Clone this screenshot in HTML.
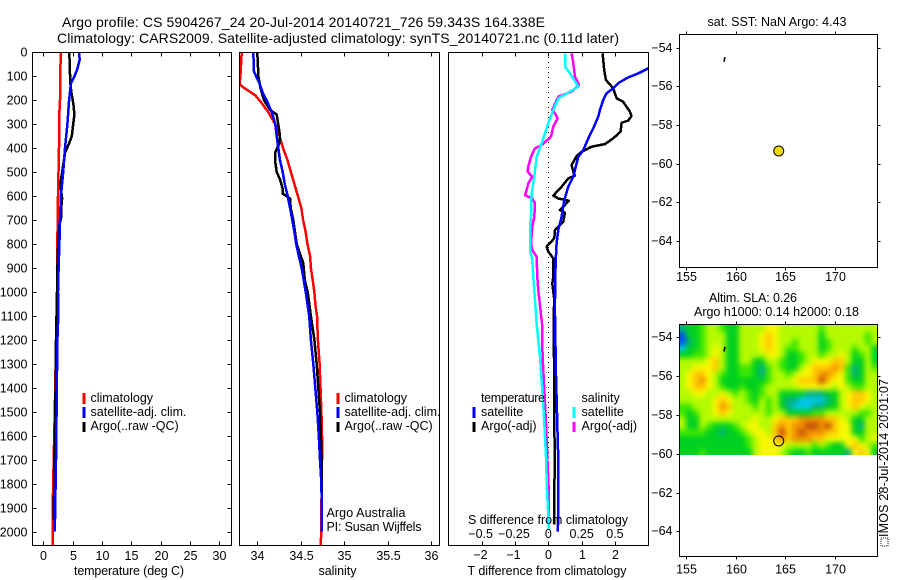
<!DOCTYPE html>
<html lang="en">
<head>
<meta charset="utf-8">
<title>Argo profile CS 5904267_24</title>
<style>
html,body{margin:0;padding:0;background:#fff;width:900px;height:580px;overflow:hidden}
svg{display:block}
text{font-family:"Liberation Sans",sans-serif;font-size:12.5px;fill:#000}
.mid{text-anchor:middle}
.end{text-anchor:end}
.frame{fill:none;stroke:#000;stroke-width:1;shape-rendering:crispEdges}
.tick{stroke:#000;stroke-width:1;shape-rendering:crispEdges}
.series{fill:none;stroke-width:2.5;shape-rendering:crispEdges;stroke-linejoin:round}
.key{stroke-width:3;shape-rendering:crispEdges}
</style>
</head>
<body>
<svg id="chart" xmlns="http://www.w3.org/2000/svg" width="900" height="580" viewBox="0 0 900 580">
  <defs>
    <clipPath id="clip-temp"><rect x="32.5" y="52.5" width="199" height="493"/></clipPath>
    <clipPath id="clip-sal"><rect x="239.5" y="52.5" width="200" height="493"/></clipPath>
    <clipPath id="clip-diff"><rect x="448.5" y="52.5" width="200" height="493"/></clipPath>
    <clipPath id="clip-heat"><rect x="679.5" y="324.5" width="198" height="130.5"/></clipPath>
    <filter id="heat-blur" x="-5%" y="-5%" width="110%" height="110%" color-interpolation-filters="sRGB"><feGaussianBlur stdDeviation="2.6"/></filter>
  </defs>

  <text x="62" y="27" font-size="14" style="font-size:14px" textLength="483" lengthAdjust="spacing">Argo profile: CS 5904267_24 20-Jul-2014 20140721_726 59.343S 164.338E</text>
  <text x="57" y="43" style="font-size:14px" textLength="562" lengthAdjust="spacing">Climatology: CARS2009. Satellite-adjusted climatology: synTS_20140721.nc (0.11d later)</text>

  <g id="temp-series" clip-path="url(#clip-temp)"></g>
  <g id="sal-series" clip-path="url(#clip-sal)"></g>
  <g id="diff-series" clip-path="url(#clip-diff)"></g>
  <g id="heat" clip-path="url(#clip-heat)"><g id="heat-cells" filter="url(#heat-blur)"></g></g>
  <g id="ticks"></g>
  <g id="map-marks"></g>

  <rect class="frame" x="32.5" y="52.5" width="199" height="493"/>
  <rect class="frame" x="239.5" y="52.5" width="200" height="493"/>
  <rect class="frame" x="448.5" y="52.5" width="200" height="493"/>
  <rect class="frame" x="679.5" y="34.5" width="198" height="233"/>
  <rect class="frame" x="679.5" y="324.5" width="198" height="232"/>

  <text class="mid" x="129" y="575" textLength="110" lengthAdjust="spacing">temperature (deg C)</text>
  <text class="mid" x="337.5" y="575" textLength="38" lengthAdjust="spacing">salinity</text>
  <text class="mid" x="547" y="575" textLength="159" lengthAdjust="spacing">T difference from climatology</text>
  <text class="mid" x="548" y="524" textLength="160" lengthAdjust="spacing">S difference from climatology</text>

  <g>
    <line class="key" x1="84" x2="84" y1="393" y2="404" stroke="#f00"/>
    <text x="90.5" y="402">climatology</text>
    <line class="key" x1="84" x2="84" y1="407" y2="418" stroke="#00f"/>
    <text x="90.5" y="416" textLength="96" lengthAdjust="spacing">satellite-adj. clim.</text>
    <line class="key" x1="84" x2="84" y1="422" y2="432" stroke="#000"/>
    <text x="90.5" y="430">Argo(..raw -QC)</text>
  </g>
  <g>
    <line class="key" x1="338" x2="338" y1="393" y2="404" stroke="#f00"/>
    <text x="344.5" y="402">climatology</text>
    <line class="key" x1="338" x2="338" y1="407" y2="418" stroke="#00f"/>
    <text x="344.5" y="416" textLength="96" lengthAdjust="spacing">satellite-adj. clim.</text>
    <line class="key" x1="338" x2="338" y1="422" y2="432" stroke="#000"/>
    <text x="344.5" y="430">Argo(..raw -QC)</text>
  </g>
  <text x="326.5" y="517" textLength="79" lengthAdjust="spacing">Argo Australia</text>
  <text x="326.5" y="531" textLength="95" lengthAdjust="spacing">PI: Susan Wijffels</text>

  <g>
    <text x="481" y="402" textLength="64" lengthAdjust="spacing">temperature</text>
    <line class="key" x1="474" x2="474" y1="407" y2="418" stroke="#00f"/>
    <text x="481" y="416">satellite</text>
    <line class="key" x1="474" x2="474" y1="422" y2="432" stroke="#000"/>
    <text x="481" y="430">Argo(-adj)</text>
    <text x="581.5" y="402">salinity</text>
    <line class="key" x1="574" x2="574" y1="407" y2="418" stroke="#0ff"/>
    <text x="581.5" y="416">satellite</text>
    <line class="key" x1="574" x2="574" y1="422" y2="432" stroke="#f0f"/>
    <text x="581.5" y="430">Argo(-adj)</text>
  </g>

  <text class="mid" x="777" y="26" textLength="139" lengthAdjust="spacing">sat. SST: NaN Argo: 4.43</text>
  <text class="mid" x="753" y="302" textLength="88" lengthAdjust="spacing">Altim. SLA: 0.26</text>
  <text class="mid" x="776.5" y="316" textLength="165" lengthAdjust="spacing">Argo h1000: 0.14 h2000: 0.18</text>

  <rect x="881" y="538" width="7" height="8" fill="#fff" stroke="#000" stroke-width="1" stroke-dasharray="1 1"/>
  <text transform="translate(888,537) rotate(-90)" textLength="158" lengthAdjust="spacing">IMOS 28-Jul-2014 20:01:07</text>
</svg>

<script>
/* ---------- profile data ---------- */
const depthTicks = [0,100,200,300,400,500,600,700,800,900,1000,1100,1200,1300,1400,1500,1600,1700,1800,1900,2000];
const tempTicks = [0,5,10,15,20,25,30];
const salTicks = [34,34.5,35,35.5,36];
const salTickLabels = ['34','34.5','35','35.5','36'];
const tDiffTicks = [-2,-1,0,1,2];
const sDiffTicks = [-0.5,-0.25,0,0.25,0.5];
const sDiffTickLabels = ['\u22120.5','\u22120.25','0','0.25','0.5'];

const tempClimDepth = [0,100,200,250,400,600,900,1100,1200,1450,1700,1900,2060];
const tempClimValue = [2.96,2.9,2.85,2.75,2.68,2.5,2.33,2.33,2.16,2.0,1.77,1.6,1.6];
const tempSatDepth = [0,30,70,100,130,200,300,400,500,600,700,800,900,1000,1100,1200,1400,1650,1950,2000];
const tempSatValue = [6.08,6.2,5.8,5.3,4.7,4.4,4.1,3.7,3.4,3.0,2.85,2.75,2.6,2.5,2.55,2.4,2.3,2.2,2.0,1.95];
const tempArgoDepth = [0,130,170,220,260,300,350,380,420,470,550,610,650,690,720,780,900,1000,1200,1500,1700,1800,1950];
const tempArgoValue = [4.44,4.6,4.8,5.15,5.3,5.1,4.85,4.4,3.7,3.4,2.9,3.2,3.05,3.05,2.75,2.55,2.4,2.33,2.16,2.05,1.9,1.85,1.75];

const salClimDepth = [0,90,130,140,160,180,210,250,300,350,400,450,500,550,600,650,700,750,800,850,900,950,1000,1050,1100,1200,1300,1400,1500,1600,1700,2060];
const salClimValue = [33.824,33.81,33.8,33.82,33.9,33.98,34.05,34.13,34.21,34.26,34.3,34.35,34.39,34.43,34.47,34.51,34.53,34.56,34.58,34.61,34.62,34.64,34.66,34.67,34.69,34.7,34.72,34.73,34.74,34.747,34.747,34.735];
const salSatDepth = [0,80,100,130,170,200,250,300,350,400,450,500,550,600,650,700,750,800,850,900,950,1000,1100,1200,1300,1400,1500,1600,1700,1800,2000];
const salSatValue = [33.957,33.966,33.99,34.03,34.065,34.11,34.17,34.21,34.226,34.245,34.264,34.295,34.32,34.353,34.38,34.406,34.43,34.45,34.48,34.514,34.537,34.56,34.6,34.62,34.647,34.67,34.693,34.71,34.724,34.74,34.747];
const salArgoDepth = [0,100,150,200,240,260,300,350,380,420,450,500,530,570,590,610,650,700,750,800,840,880,950,1000,1100,1200,1300,1400,1500,1700,1900];
const salArgoValue = [34.004,34.016,34.04,34.08,34.15,34.226,34.245,34.264,34.256,34.207,34.207,34.226,34.264,34.295,34.295,34.38,34.387,34.417,34.437,34.456,34.494,34.532,34.55,34.583,34.62,34.66,34.686,34.705,34.724,34.744,34.747];

const tDiffSatDepth = [0,30,50,67,88,108,129,150,171,199,241,268,317,359,408,436,463,519,561,616,686,741,797,880,1033,1100,1350,1550,1700,1950,2000];
const tDiffSatValue = [3.12,3.4,3.3,3.0,2.7,2.35,2.1,1.95,1.75,1.65,1.55,1.5,1.35,1.2,1.05,0.9,0.85,0.75,0.6,0.48,0.4,0.3,0.25,0.22,0.2,0.2,0.23,0.27,0.3,0.3,0.28];
const tDiffArgoDepth = [4,74,115,150,192,206,248,266,285,294,331,359,383,394,415,433,470,498,515,526,561,598,610,619,658,669,707,741,776,811,832,860,936,964,1034,1100,1400,1700,1970];
const tDiffArgoValue = [1.63,1.68,1.73,1.95,2.05,2.25,2.45,2.5,2.4,2.2,2.17,1.95,1.7,1.3,1.0,0.85,0.7,0.75,0.8,0.6,0.4,0.15,0.3,0.62,0.35,0.5,0.45,0.2,0.18,-0.05,0,0.15,0.15,0.12,0.18,0.16,0.18,0.19,0.18];
const sDiffSatDepth = [4,60,88,143,164,192,241,296,380,436,519,589,686,741,825,867,936,992,1131,1270,1409,1548,1687,1826,1993];
const sDiffSatValue = [0.125,0.125,0.1625,0.225,0.1625,0.075,0.0375,0,-0.05,-0.0875,-0.105,-0.125,-0.13,-0.1375,-0.135,-0.12,-0.1125,-0.105,-0.0875,-0.0625,-0.045,-0.03,-0.0175,-0.01,0.005];
const sDiffArgoDepth = [4,46,102,136,164,185,199,241,255,276,310,352,387,401,435,477,498,519,547,575,596,610,630,686,727,797,825,853,936,992,1131,1270,1409,1548,1687,1853,1965];
const sDiffArgoValue = [0.175,0.1875,0.2,0.23,0.175,0.075,0.0625,0.03,0.05,0.07,0.0375,0.02,-0.05,-0.1,-0.13,-0.15,-0.155,-0.12,-0.15,-0.1625,-0.175,-0.12,-0.1,-0.105,-0.12,-0.13,-0.12,-0.0875,-0.0825,-0.075,-0.0475,-0.0425,-0.03,-0.0175,-0.0075,0.005,0];

/* ---------- map data ---------- */
const lonTicks = [155,160,165,170];
const latTicks = [-54,-56,-58,-60,-62,-64];
const floatLon = 164.338;
const floatLat = -59.343;
const trackLon = [158.93,158.83];
const trackLat = [-54.49,-54.73];
const slaStartLon = 154.33;
const slaStartLat = -53.4;
const slaStepLon = 2/3;
const slaStepLat = 1/3;
const slaGrid = [
[2,3,3,4,5,5,4,3,3,5,5,5,5,6,6,5,5,5,5,5,5,4,5,5,5,5,5,5,5,5],
[0,3,3,4,5,5,5,3,3,5,5,5,6,7,6,5,5,5,5,5,5,3,5,5,5,5,5,5,4,5],
[0,2,3,4,5,5,5,3,3,5,5,5,6,7,6,5,5,4,5,5,5,3,4,5,5,5,5,5,4,5],
[1,3,3,4,5,6,5,3,3,5,5,5,6,7,6,5,4,4,5,5,5,3,4,5,5,5,4,5,5,3],
[3,3,4,4,5,6,5,3,3,5,5,5,5,6,6,5,3,3,4,5,5,4,5,5,6,5,3,4,5,3],
[5,5,5,5,6,7,5,3,3,5,5,3,3,5,5,4,3,3,4,5,6,6,6,7,7,5,3,3,5,3],
[5,5,6,6,6,7,5,3,3,4,4,3,2,4,5,4,3,3,5,6,7,7,7,8,7,4,2,3,5,4],
[5,6,7,7,6,5,4,3,3,4,4,3,2,4,5,5,4,5,6,6,7,8,8,7,6,4,2,3,5,5],
[5,6,7,8,6,5,3,3,3,3,3,3,3,4,5,5,5,6,7,7,7,9,7,6,6,4,3,3,5,5],
[5,6,7,7,6,5,4,3,3,4,3,3,4,5,5,5,5,5,6,6,6,6,6,5,6,5,4,4,5,5],
[5,5,6,6,5,5,6,5,4,5,4,3,4,5,5,3,3,3,3,2,2,2,3,3,5,6,7,7,6,5],
[5,5,5,5,5,6,7,6,5,5,4,3,5,4,5,3,2,2,1,1,1,1,2,3,5,6,7,7,6,5],
[4,4,5,5,5,6,8,7,5,5,5,4,5,4,5,3,2,1,1,1,2,2,3,3,5,6,7,6,5,5],
[4,3,4,5,5,6,7,6,5,5,5,5,5,4,5,5,3,3,3,3,4,4,5,5,5,5,5,4,4,5],
[5,3,3,5,5,5,5,5,5,5,5,6,5,5,6,7,7,7,8,8,8,8,7,7,6,5,3,3,5,5],
[5,3,3,5,4,3,3,3,4,5,6,6,5,5,7,8,7,8,8,9,9,8,9,7,6,6,3,2,5,5],
[4,4,4,4,3,3,2,3,3,4,5,6,6,5,7,9,7,8,9,8,8,8,7,7,6,6,3,3,5,5],
[3,3,3,3,3,3,3,3,3,3,4,5,6,6,7,8,7,8,8,8,7,7,6,6,6,6,6,4,5,6],
[3,3,3,3,3,3,3,3,3,3,4,5,6,6,6,6,5,5,5,5,4,5,4,3,3,6,7,6,5,4],
[3,3,3,4,3,3,3,3,3,3,3,5,6,6,6,5,4,3,3,4,3,3,3,3,3,2,6,7,6,3]
];
const slaPalette = ['#0050f0','#00c8e8','#00b080','#00d020','#40e800','#b4fa00','#f8f800','#ffc800','#f09000','#c04808'];

/* ---------- axis functions ---------- */
const SVGNS = 'http://www.w3.org/2000/svg';
const depthY = d => 52.3 + d * 0.2397;
const tempX = t => 43.3 + t * 5.867;
const salX = s => 257 + (s - 34) * 87;
const tDiffX = t => 548.3 + t * 33.3;
const sDiffX = s => 548.3 + s * 133.3;
const lonX = l => 686 + (l - 155) * 9.93;
const latYUpper = l => 47.6 + (-54 - l) * 19.35;
const latYLower = l => 337.3 + (-54 - l) * 19.4;

function mk(parent, tag, cls) {
  const el = document.createElementNS(SVGNS, tag);
  if (cls) el.setAttribute('class', cls);
  parent.appendChild(el);
  return el;
}
function setAll(el, props) {
  Object.keys(props).forEach(k => el.setAttribute(k, props[k]));
}
function drawSeries(parentId, name, depths, values, xFn, color) {
  const line = mk(document.getElementById(parentId), 'polyline', 'series');
  
  
  line.setAttribute('stroke', color);
  line.setAttribute('points', depths.map((d, i) => xFn(values[i]).toFixed(1) + ',' + depthY(d).toFixed(1)).join(' '));
}
function tickLine(x1, y1, x2, y2) {
  const t = mk(document.getElementById('ticks'), 'line', 'tick');
  
  
  setAll(t, {x1: x1, y1: y1, x2: x2, y2: y2});
}
function tickLabel(x, y, str, cls) {
  const t = mk(document.getElementById('ticks'), 'text', cls);
  
  
  setAll(t, {x: x, y: y});
  t.textContent = str;
}

/* ---------- series ---------- */
drawSeries('temp-series', 'temperature-climatology-line', tempClimDepth, tempClimValue, tempX, '#f00');
drawSeries('temp-series', 'temperature-argo-line', tempArgoDepth, tempArgoValue, tempX, '#000');
drawSeries('temp-series', 'temperature-satellite-line', tempSatDepth, tempSatValue, tempX, '#00f');
drawSeries('sal-series', 'salinity-climatology-line', salClimDepth, salClimValue, salX, '#f00');
drawSeries('sal-series', 'salinity-argo-line', salArgoDepth, salArgoValue, salX, '#000');
drawSeries('sal-series', 'salinity-satellite-line', salSatDepth, salSatValue, salX, '#00f');

const zeroLine = mk(document.getElementById('diff-series'), 'line');


setAll(zeroLine, {x1: tDiffX(0), x2: tDiffX(0), y1: 52, y2: 545, stroke: '#000', 'stroke-width': 1, 'stroke-dasharray': '1 4', 'shape-rendering': 'crispEdges'});

drawSeries('diff-series', 'salinity-diff-argo-line', sDiffArgoDepth, sDiffArgoValue, sDiffX, '#f0f');
drawSeries('diff-series', 'salinity-diff-satellite-line', sDiffSatDepth, sDiffSatValue, sDiffX, '#0ff');
drawSeries('diff-series', 'temperature-diff-argo-line', tDiffArgoDepth, tDiffArgoValue, tDiffX, '#000');
drawSeries('diff-series', 'temperature-diff-satellite-line', tDiffSatDepth, tDiffSatValue, tDiffX, '#00f');

/* ---------- profile ticks ---------- */
depthTicks.forEach(d => {
  const y = Math.round(depthY(d)) + 0.5;
  tickLine(32.5, y, 36.5, y);
  tickLine(227.5, y, 231.5, y);
  tickLabel(27.5, y + 3.8, String(d), 'end');
});
tempTicks.forEach(t => {
  const x = Math.round(tempX(t)) + 0.5;
  tickLine(x, 52.5, x, 56.5);
  tickLine(x, 541.5, x, 545.5);
  tickLabel(x, 560, String(t), 'mid');
});
salTicks.forEach((s, i) => {
  const x = Math.round(salX(s)) + 0.5;
  tickLine(x, 52.5, x, 56.5);
  tickLine(x, 541.5, x, 545.5);
  tickLabel(x, 560, salTickLabels[i], 'mid');
});
tDiffTicks.forEach(t => {
  const x = Math.round(tDiffX(t)) + 0.5;
  tickLine(x, 52.5, x, 56.5);
  tickLine(x, 541.5, x, 545.5);
  tickLabel(x - (t < 0 ? 2 : 0), 559, t < 0 ? '\u2212' + Math.abs(t) : String(t), 'mid');
});
sDiffTicks.forEach((s, i) => {
  tickLabel(sDiffX(s) - (s < 0 ? 1 : 0), 538, sDiffTickLabels[i], 'mid');
});

/* ---------- map ticks ---------- */
function mapAxes(latFn, top, bottom, labelGap) {
  lonTicks.forEach(l => {
    const x = Math.round(lonX(l)) + 0.5;
    tickLine(x, top - 3, x, top);
    tickLine(x, bottom, x, bottom + 3);
    tickLabel(x, bottom + labelGap, String(l), 'mid');
  });
  latTicks.forEach(l => {
    const y = Math.round(latFn(l)) + 0.5;
    tickLine(676.5, y, 679.5, y);
    tickLine(877.5, y, 880.5, y);
    tickLabel(672.5, y + 3.5, '\u2212' + Math.abs(l), 'end');
  });
}
mapAxes(latYUpper, 34.5, 267.5, 13.5);
mapAxes(latYLower, 324.5, 556.5, 17);

/* ---------- heatmap ---------- */
const heatGroup = document.getElementById('heat-cells');
slaGrid.forEach((row, r) => {
  row.forEach((v, c) => {
    const cell = mk(heatGroup, 'rect');
    
    
    const x0 = lonX(slaStartLon + c * slaStepLon);
    const x1 = lonX(slaStartLon + (c + 1) * slaStepLon);
    const y0 = latYLower(slaStartLat - r * slaStepLat);
    const y1 = latYLower(slaStartLat - (r + 1) * slaStepLat);
    const padL = c === 0 ? 10 : 0;
    const padR = c === row.length - 1 ? 10 : 0;
    const padT = r === 0 ? 10 : 0;
    const padB = r === slaGrid.length - 1 ? 10 : 0;
    setAll(cell, {
      x: (x0 - padL).toFixed(2),
      y: (y0 - padT).toFixed(2),
      width: (x1 - x0 + padL + padR + 0.3).toFixed(2),
      height: (y1 - y0 + padT + padB + 0.3).toFixed(2),
      fill: slaPalette[Math.max(0, Math.min(slaPalette.length - 1, Math.round(v)))]
    });
  });
});

/* ---------- float positions and tracks ---------- */
const marks = document.getElementById('map-marks');
function drawTrack(latFn, name) {
  const t = mk(marks, 'polyline');
  
  
  setAll(t, {
    points: trackLon.map((l, i) => lonX(l).toFixed(1) + ',' + latFn(trackLat[i]).toFixed(1)).join(' '),
    fill: 'none', stroke: '#000', 'stroke-width': 1.6
  });
}
drawTrack(latYUpper, 'sst-map-float-track');
drawTrack(latYLower, 'sla-map-float-track');

const sstDot = mk(marks, 'circle');


setAll(sstDot, {cx: lonX(floatLon), cy: latYUpper(floatLat), r: 5, fill: '#f0dc00', stroke: '#000', 'stroke-width': 1});

const slaDot = mk(marks, 'circle');


setAll(slaDot, {cx: lonX(floatLon), cy: latYLower(floatLat), r: 5, fill: 'none', stroke: '#000', 'stroke-width': 1});
</script>
</body>
</html>
